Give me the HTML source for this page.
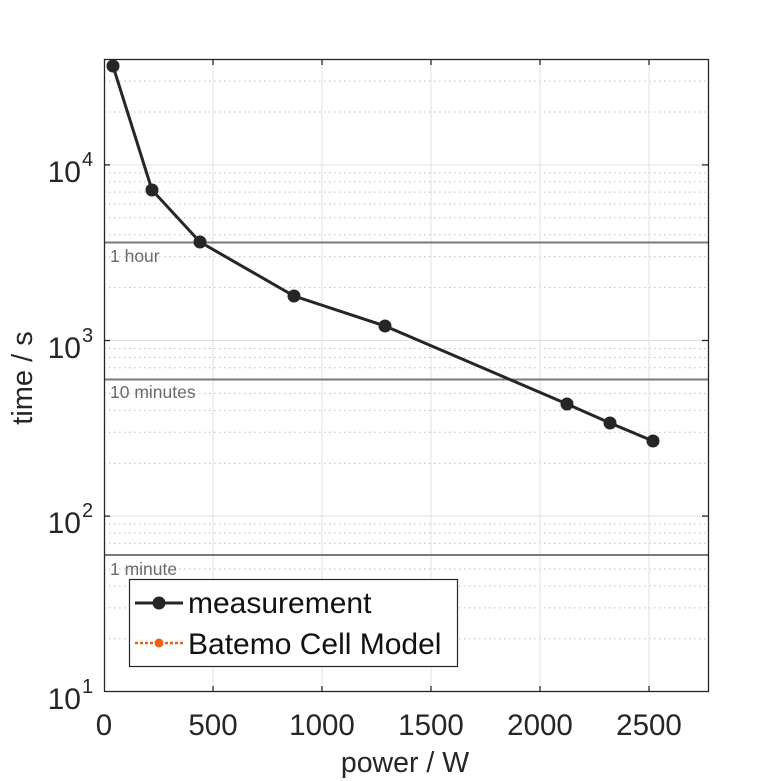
<!DOCTYPE html>
<html><head><meta charset="utf-8"><style>
html,body{margin:0;padding:0;background:#fff;}
svg{display:block;font-family:"Liberation Sans",Arial,sans-serif;}
</style></head><body>
<svg width="781" height="781" viewBox="0 0 781 781" xmlns="http://www.w3.org/2000/svg">
<rect width="781" height="781" fill="#fff"/>
<g stroke="#bdbdbd" stroke-width="1" stroke-dasharray="1.5 3.5">
<line x1="104" x2="708" y1="638.8" y2="638.8"/><line x1="104" x2="708" y1="607.9" y2="607.9"/><line x1="104" x2="708" y1="586" y2="586"/><line x1="104" x2="708" y1="569" y2="569"/><line x1="104" x2="708" y1="555.1" y2="555.1"/><line x1="104" x2="708" y1="543.3" y2="543.3"/><line x1="104" x2="708" y1="533.1" y2="533.1"/><line x1="104" x2="708" y1="524.1" y2="524.1"/>
<line x1="104" x2="708" y1="463.2" y2="463.2"/><line x1="104" x2="708" y1="432.3" y2="432.3"/><line x1="104" x2="708" y1="410.4" y2="410.4"/><line x1="104" x2="708" y1="393.4" y2="393.4"/><line x1="104" x2="708" y1="379.5" y2="379.5"/><line x1="104" x2="708" y1="367.7" y2="367.7"/><line x1="104" x2="708" y1="357.5" y2="357.5"/><line x1="104" x2="708" y1="348.5" y2="348.5"/>
<line x1="104" x2="708" y1="287.6" y2="287.6"/><line x1="104" x2="708" y1="256.7" y2="256.7"/><line x1="104" x2="708" y1="234.8" y2="234.8"/><line x1="104" x2="708" y1="217.8" y2="217.8"/><line x1="104" x2="708" y1="203.9" y2="203.9"/><line x1="104" x2="708" y1="192.1" y2="192.1"/><line x1="104" x2="708" y1="181.9" y2="181.9"/><line x1="104" x2="708" y1="172.9" y2="172.9"/>
<line x1="104" x2="708" y1="112" y2="112"/><line x1="104" x2="708" y1="81.1" y2="81.1"/>
</g>
<g stroke="#e0e0e0" stroke-width="1">
<line x1="104" x2="708" y1="516.1" y2="516.1"/><line x1="104" x2="708" y1="340.5" y2="340.5"/><line x1="104" x2="708" y1="164.9" y2="164.9"/>
<line x1="213" x2="213" y1="59" y2="692"/><line x1="322" x2="322" y1="59" y2="692"/><line x1="431" x2="431" y1="59" y2="692"/><line x1="540" x2="540" y1="59" y2="692"/><line x1="649" x2="649" y1="59" y2="692"/>
</g>
<g stroke="#7a7a7a" stroke-width="2">
<line x1="104" x2="708" y1="242.5" y2="242.5"/><line x1="104" x2="708" y1="379.5" y2="379.5"/><line x1="104" x2="708" y1="555" y2="555"/>
</g>
<g fill="#6a6a6a" font-size="17.5">
<text x="110" y="262">1 hour</text>
<text x="110" y="398">10 minutes</text>
<text x="110" y="575">1 minute</text>
</g>
<rect x="104.5" y="59.5" width="604" height="632" fill="none" stroke="#262626" stroke-width="1.3"/>
<g stroke="#262626" stroke-width="1.3">
<line x1="213" x2="213" y1="692" y2="686"/><line x1="322" x2="322" y1="692" y2="686"/><line x1="431" x2="431" y1="692" y2="686"/><line x1="540" x2="540" y1="692" y2="686"/><line x1="649" x2="649" y1="692" y2="686"/>
<line x1="213" x2="213" y1="59" y2="65"/><line x1="322" x2="322" y1="59" y2="65"/><line x1="431" x2="431" y1="59" y2="65"/><line x1="540" x2="540" y1="59" y2="65"/><line x1="649" x2="649" y1="59" y2="65"/>
<line x1="104" x2="110" y1="516.1" y2="516.1"/><line x1="104" x2="110" y1="340.5" y2="340.5"/><line x1="104" x2="110" y1="164.9" y2="164.9"/>
<line x1="708" x2="702" y1="516.1" y2="516.1"/><line x1="708" x2="702" y1="340.5" y2="340.5"/><line x1="708" x2="702" y1="164.9" y2="164.9"/>
</g>
<polyline fill="none" stroke="#262626" stroke-width="3" stroke-linejoin="round" points="113,66 152,190 200,242 294,296 385,326 567,404 610,423 653,441"/>
<g fill="#262626">
<circle cx="113" cy="66" r="6.5"/><circle cx="152" cy="190" r="6.5"/><circle cx="200" cy="242" r="6.5"/><circle cx="294" cy="296" r="6.5"/><circle cx="385" cy="326" r="6.5"/><circle cx="567" cy="404" r="6.5"/><circle cx="610" cy="423" r="6.5"/><circle cx="653" cy="441" r="6.5"/>
</g>
<g fill="#262626" font-size="29.5" text-anchor="middle">
<text x="104" y="735">0</text><text x="213" y="735">500</text><text x="322" y="735">1000</text><text x="431" y="735">1500</text><text x="540" y="735">2000</text><text x="649" y="735">2500</text>
</g>
<g fill="#262626" font-size="30" text-anchor="end">
<text x="81" y="709">10</text><text x="81" y="533">10</text><text x="81" y="358">10</text><text x="81" y="182">10</text>
</g>
<g fill="#262626" font-size="20">
<text x="82" y="693">1</text><text x="82" y="517">2</text><text x="82" y="342">3</text><text x="82" y="166">4</text>
</g>
<text x="405" y="772" fill="#262626" font-size="28.5" text-anchor="middle">power / W</text>
<text transform="translate(32,378) rotate(-90)" fill="#262626" font-size="29" text-anchor="middle">time / s</text>
<rect x="129.5" y="579.5" width="328" height="87" fill="#fff" stroke="#262626" stroke-width="1.2"/>
<line x1="135" x2="183" y1="603" y2="603" stroke="#262626" stroke-width="3"/>
<circle cx="159" cy="603" r="6.5" fill="#262626"/>
<line x1="135" x2="183" y1="643" y2="643" stroke="#f0621a" stroke-width="2.5" stroke-dasharray="3 2"/>
<circle cx="159" cy="643" r="4.5" fill="#f0621a"/>
<g fill="#111" font-size="30">
<text x="188" y="613">measurement</text>
<text x="188" y="654">Batemo Cell Model</text>
</g>
</svg>
</body></html>
